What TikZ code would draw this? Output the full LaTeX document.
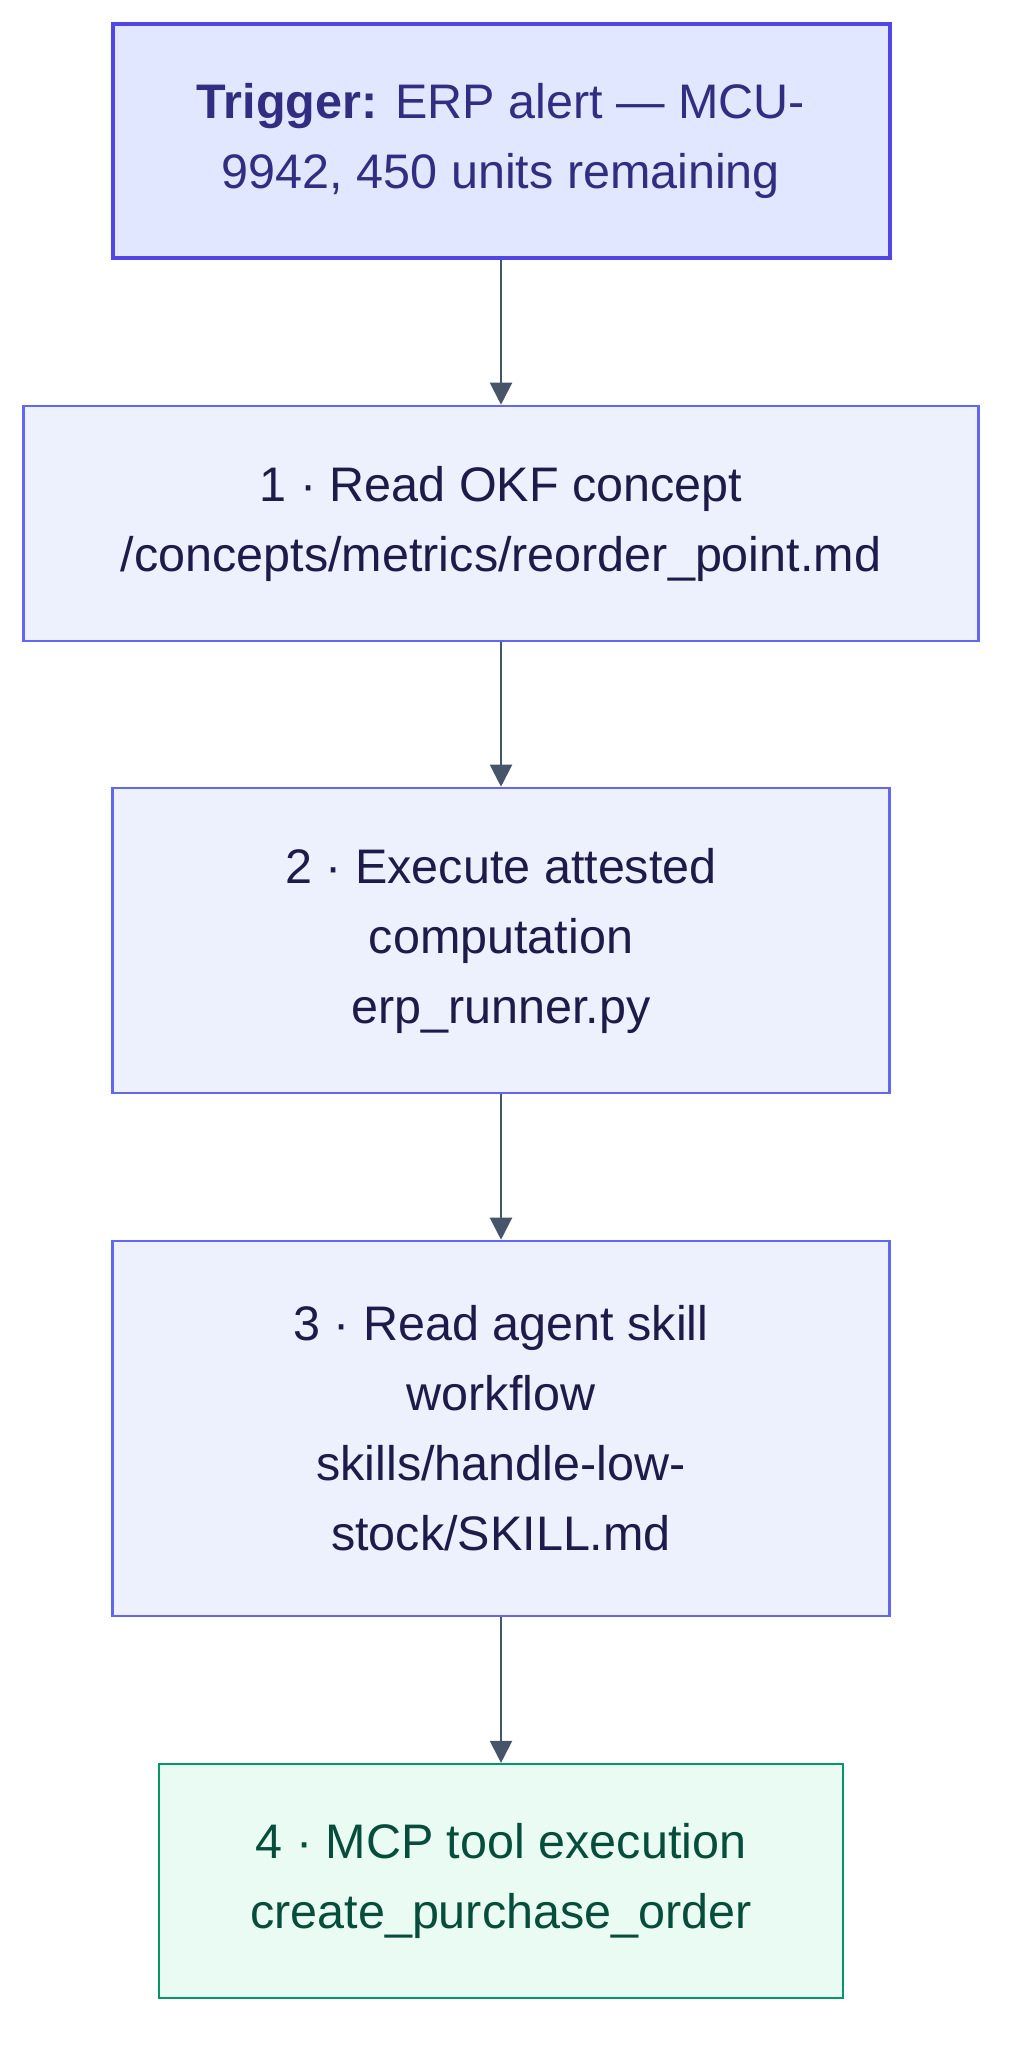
\documentclass[tikz,border=0pt]{standalone}
\usepackage{fontspec}
\setmainfont{Liberation Sans}
\usetikzlibrary{arrows.meta}
\usetikzlibrary{calc}

\definecolor{triggerfill}{HTML}{E0E7FF}
\definecolor{triggerdraw}{HTML}{4F46E5}
\definecolor{triggertext}{HTML}{312E81}
\definecolor{stepfill}{HTML}{EDF0FD}
\definecolor{stepdraw}{HTML}{6366F1}
\definecolor{steptext}{HTML}{1E1B4B}
\definecolor{toolfill}{HTML}{EAFBF3}
\definecolor{tooldraw}{HTML}{059669}
\definecolor{tooltext}{HTML}{064E3B}
\definecolor{flowarrow}{HTML}{475569}

\tikzset{
  flowtext/.style={align=center, inner sep=0pt, font=\fontsize{48.5}{70}\selectfont},
  triggerbox/.style={flowtext, draw=triggerdraw, fill=triggerfill, text=triggertext, line width=4pt},
  stepbox/.style={flowtext, draw=stepdraw, fill=stepfill, text=steptext, line width=2.6pt},
  toolbox/.style={flowtext, draw=tooldraw, fill=toolfill, text=tooltext, line width=2.2pt},
  flowline/.style={draw=flowarrow, line width=2.2pt, -{Triangle[length=22pt, width=22pt]}}
}

\begin{document}
\begin{tikzpicture}[x=1pt, y=-1pt]
        \newcommand{\flowcentx}{501}
        \newcommand{\flowwidewidth}{955}
        \newcommand{\flowboxwidth}{777}
        \newcommand{\flowtoolwidth}{684}
        \useasboundingbox (0,0) rectangle (1026,2064);
        \node[triggerbox, minimum width=\flowboxwidth pt, minimum height=234pt] (trigger) at (\flowcentx,141)
            {\textbf{Trigger:} ERP alert — MCU-\\9942, 450 units remaining};
        \node[stepbox, minimum width=\flowwidewidth pt, minimum height=235pt] (readokf) at (\flowcentx,523.5)
            {1 · Read OKF concept\\/concepts/metrics/reorder\_point.md};
        \node[stepbox, minimum width=\flowboxwidth pt, minimum height=305pt] (execute) at (\flowcentx,940.5)
            {2 · Execute attested\\computation\\erp\_runner.py};
        \node[stepbox, minimum width=\flowboxwidth pt, minimum height=375pt] (readskill) at (\flowcentx,1428.5)
            {3 · Read agent skill\\workflow\\skills/handle-low-\\stock/SKILL.md};
        \node[toolbox, minimum width=\flowtoolwidth pt, minimum height=234pt] (mcptool) at (\flowcentx,1881)
            {4 · MCP tool execution\\create\_purchase\_order};
        \draw[flowline] (trigger) -- (readokf);
        \draw[flowline] (readokf) -- (execute);
        \draw[flowline] (execute) -- (readskill);
        \draw[flowline] (readskill) -- (mcptool);
\end{tikzpicture}
\end{document}
